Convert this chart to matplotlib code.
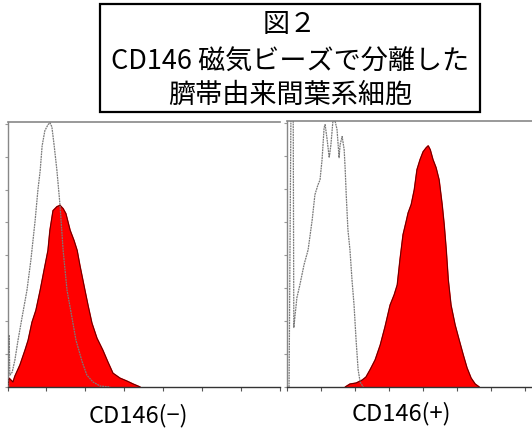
import matplotlib
matplotlib.use("Agg")
import matplotlib.pyplot as plt
from matplotlib.patches import Rectangle
import numpy as np

plt.rcParams['font.family'] = ['Noto Sans CJK JP', 'DejaVu Sans']

# x in channel-tick units, y in relative counts
neg_ctrl_x = [0.01, 0.04, 0.06, 0.12, 0.19, 0.27, 0.37, 0.50, 0.60, 0.71, 0.78, 0.84, 0.89, 0.96,
              1.04, 1.09, 1.14, 1.20, 1.27, 1.35, 1.43, 1.53, 1.66, 1.76, 1.92, 2.04, 2.20, 2.38, 2.64]
neg_ctrl_y = [0.00, 1.58, 0.36, 0.45, 0.82, 1.42, 2.09, 2.94, 3.85, 5.06, 5.97, 6.58, 7.33, 7.79,
              7.97, 8.03, 7.91, 7.33, 6.58, 5.52, 4.15, 2.94, 2.09, 1.42, 0.76, 0.36, 0.15, 0.03, 0.00]

neg_x = [0.01, 0.04, 0.09, 0.14, 0.19, 0.32, 0.45, 0.53, 0.63, 0.73, 0.84, 0.94, 1.04, 1.09, 1.17,
         1.27, 1.35, 1.43, 1.50, 1.61, 1.71, 1.79, 1.86, 1.99, 2.07, 2.17, 2.30, 2.45, 2.58, 2.71,
         2.89, 3.07, 3.23, 3.41]
neg_y = [0.00, 0.27, 0.21, 0.15, 0.33, 0.67, 1.12, 1.42, 1.97, 2.33, 2.94, 3.55, 4.15, 4.76, 5.36,
         5.48, 5.52, 5.42, 5.27, 4.76, 4.45, 4.15, 3.70, 2.94, 2.48, 1.94, 1.48, 1.12, 0.76, 0.42,
         0.27, 0.18, 0.09, 0.00]

pos_ctrl_x = [0.06, 0.12, 0.18, 0.20, 0.29, 0.38, 0.50, 0.62, 0.74, 0.82, 0.91, 0.97, 1.03, 1.09,
              1.12, 1.18, 1.24, 1.29, 1.35, 1.41, 1.47, 1.53, 1.56, 1.62, 1.68, 1.71, 1.74, 1.79,
              1.85, 1.91, 1.97, 2.03, 2.09, 2.15, 2.24]
pos_ctrl_y = [0.00, 9.00, 9.00, 1.80, 2.70, 3.10, 3.70, 4.15, 5.06, 5.82, 6.12, 6.27, 6.88, 7.85,
              7.94, 7.48, 6.94, 7.33, 8.06, 8.06, 7.79, 6.94, 7.33, 7.58, 7.18, 6.58, 5.82, 4.76,
              4.15, 3.24, 2.48, 1.42, 0.52, 0.15, 0.00]

pos_x = [1.71, 1.85, 2.03, 2.21, 2.32, 2.44, 2.59, 2.74, 2.88, 3.03, 3.15, 3.24, 3.32, 3.41, 3.50,
         3.56, 3.65, 3.74, 3.82, 3.91, 4.00, 4.09, 4.15, 4.21, 4.29, 4.38, 4.47, 4.56, 4.62, 4.68,
         4.74, 4.82, 4.94, 5.06, 5.18, 5.29, 5.41, 5.53, 5.65]
pos_y = [0.00, 0.09, 0.12, 0.21, 0.30, 0.52, 0.82, 1.27, 1.82, 2.48, 2.79, 3.09, 3.85, 4.61, 5.00,
         5.27, 5.52, 5.97, 6.58, 6.88, 7.12, 7.24, 7.30, 7.18, 6.88, 6.64, 6.27, 5.52, 4.91, 4.15,
         3.24, 2.48, 1.88, 1.42, 0.97, 0.58, 0.27, 0.09, 0.00]

title_lines = ["図２", "CD146 磁気ビーズで分離した", "臍帯由来間葉系細胞"]
panel_labels = ["CD146(−)", "CD146(+)"]

fig = plt.figure(figsize=(5.32, 4.30), dpi=100)

ax1 = fig.add_axes([0.0141, 0.1, 0.512, 0.616])
ax2 = fig.add_axes([0.5395, 0.1, 0.4605, 0.6186])

def style(ax, xmax):
    ax.set_xlim(0, xmax)
    ax.set_ylim(0, 8.05)
    ax.set_xticks(np.arange(0, 8))
    ax.set_yticks(np.arange(0, 9))
    ax.set_xticklabels([])
    ax.set_yticklabels([])
    ax.tick_params(axis='x', direction='out', length=3, width=0.8, color='#555555')
    ax.tick_params(axis='y', direction='out', length=2, width=0.8, color='#999999')
    ax.spines['right'].set_visible(False)
    ax.spines['left'].set_color('#888888')
    ax.spines['top'].set_color('#888888')
    ax.spines['bottom'].set_color('#333333')
    ax.spines['top'].set_linewidth(1.2)
    ax.spines['left'].set_linewidth(1.0)
    ax.spines['bottom'].set_linewidth(1.0)

style(ax1, 7.0)
style(ax2, 7.2)

for ax, (fx, fy), (cx, cy) in [(ax1, (neg_x, neg_y), (neg_ctrl_x, neg_ctrl_y)),
                               (ax2, (pos_x, pos_y), (pos_ctrl_x, pos_ctrl_y))]:
    ax.fill(fx, fy, color='#ff0000', zorder=2)
    ax.plot(fx, fy, color='#5a0000', lw=0.7, zorder=3)
    ax.plot(cx, cy, color='#7a7a7a', lw=0.9, ls=(0, (1.5, 0.6)), zorder=4, clip_on=True)

# title box
fig.patches.append(Rectangle((0.188, 0.7395), 0.714, 0.251, transform=fig.transFigure,
                             fill=False, edgecolor='black', linewidth=1.6))
for y, line in zip([0.943, 0.855, 0.777], title_lines):
    fig.text(0.545, y, line, ha='center', va='center', fontsize=19.5)

fig.text(138 / 532, 1 - 416 / 430, panel_labels[0], ha='center', va='center', fontsize=17)
fig.text(401 / 532, 1 - 414 / 430, panel_labels[1], ha='center', va='center', fontsize=17)

fig.savefig("out.png", dpi=100)
